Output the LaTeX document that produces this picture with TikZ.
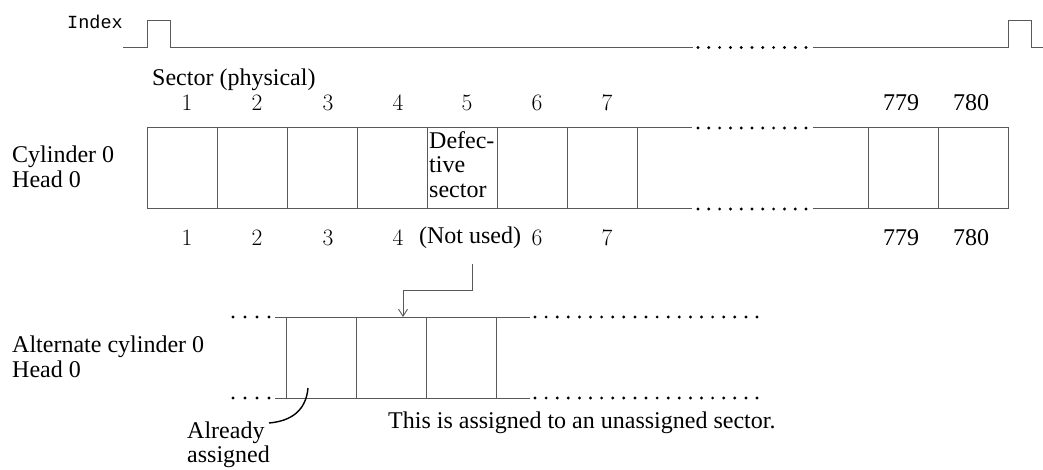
\documentclass[tikz,border=0pt]{standalone}
\usepackage{fontspec}
\newfontfamily\tms{Liberation Serif}
\newfontfamily\idxfont{Liberation Mono}
\usetikzlibrary{arrows.meta}
\tikzset{
  ln/.style={draw=black!65, line width=1pt},
  cell/.style={draw=black!65, line width=1pt, minimum width=70pt, minimum height=81pt, inner sep=0pt, outer sep=0pt},
  txt/.style={font=\tms\fontsize{24}{24.5}\selectfont, inner sep=0pt},
  num/.style={font=\fontsize{23.5}{25}\selectfont, inner sep=0pt},
  dotfill/.style={fill=black},
}
\begin{document}
\begin{tikzpicture}[x=1pt,y=-1pt]
\useasboundingbox (0,0) rectangle (1043,470);

% Index signal
\node[font=\idxfont\fontsize{18.5}{20}\selectfont, inner sep=0pt, anchor=west] (idx) at (67,22) {Index};
\draw[ln] (123,47.5) -- (147,47.5) -- (147,21) -- (170,21) -- (170,47.5) -- (693,47.5);
\foreach \k in {0,...,10} \fill[dotfill] (698+10.8*\k,47.5) circle (1.6);
\draw[ln] (813,47.5) -- (1008,47.5) -- (1008,21) -- (1031,21) -- (1031,47.5) -- (1043,47.5);

% Sector header
\node[txt, anchor=west] (sec) at (152,80) {Sector (physical)};
\foreach \i/\x in {1/187,2/257,3/328,4/398,5/467,6/537,7/607}
  \node[num] (t\i) at (\x,103) {\i};
\node[txt] (t779) at (901,103) {779};
\node[txt] (t780) at (971,103) {780};

% Main row
\node[txt, align=left, anchor=west] (cyl) at (12,167) {Cylinder 0\\Head 0};
\foreach \i in {1,...,7}
  \node[cell] (c\i) at ({147+70*\i-35},168.5) {};
\node[cell] (c779) at (903,168.5) {};
\node[cell] (c780) at (973,168.5) {};
\node[txt, align=left, anchor=north west] (def) at ([xshift=2pt,yshift=-3pt]c5.north west) {Defec-\\tive\\sector};
\coordinate (m1) at (692,0);
\coordinate (m2) at (813,0);
\draw[ln] (c7.north east) -- (c7.north east -| m1);
\draw[ln] (c7.south east) -- (c7.south east -| m1);
\draw[ln] (c779.north west -| m2) -- (c779.north west);
\draw[ln] (c779.south west -| m2) -- (c779.south west);
\foreach \k in {0,...,10} {
  \fill[dotfill] (698+10.8*\k,128) circle (1.6);
  \fill[dotfill] (698+10.8*\k,209) circle (1.6);
}

% Bottom numbers
\foreach \i/\x in {1/187,2/257,3/328,4/398,6/537,7/607}
  \node[num] (b\i) at (\x,238) {\i};
\node[txt] (nu) at (470,238) {(Not used)};
\node[txt] (b779) at (901,238) {779};
\node[txt] (b780) at (971,238) {780};

% Alternate row
\node[txt, align=left, anchor=west] (alt) at (12,357) {Alternate cylinder 0\\Head 0};
\foreach \i in {1,2,3}
  \node[cell] (a\i) at ({286+70*\i-35},357.5) {};
\coordinate (l1) at (275,0);
\coordinate (r1) at (530,0);
\draw[ln] (a1.north west -| l1) -- (a1.north west);
\draw[ln] (a1.south west -| l1) -- (a1.south west);
\draw[ln] (a3.north east) -- (a3.north east -| r1);
\draw[ln] (a3.south east) -- (a3.south east -| r1);
\foreach \k in {0,...,3} {
  \fill[dotfill] (233+12*\k,317) circle (1.6);
  \fill[dotfill] (233+12*\k,398) circle (1.6);
}
\foreach \k in {0,...,20} {
  \fill[dotfill] (535+11.1*\k,317) circle (1.6);
  \fill[dotfill] (535+11.1*\k,398) circle (1.6);
}

% Arrow from (Not used) to alternate sector
\coordinate (ar0) at (472,264);
\coordinate (ar1) at (472,290);
\coordinate (ax) at (403,0);
\draw[ln, -{Straight Barb[length=7pt,width=9pt,line width=0.9pt]}] (ar0) -- (ar1) -| (a2.north -| ax);

% Already assigned
\node[txt, align=left, anchor=west] (already) at (187,445) {Already\\assigned};
\coordinate (cs) at (308,388);
\coordinate (ce) at (269,423);
\draw[black, line width=1.4pt] (cs) .. controls (306,410) and (292,421) .. (ce);

\node[txt, anchor=west] (note) at (388,423) {This is assigned to an unassigned sector.};
\end{tikzpicture}
\end{document}
